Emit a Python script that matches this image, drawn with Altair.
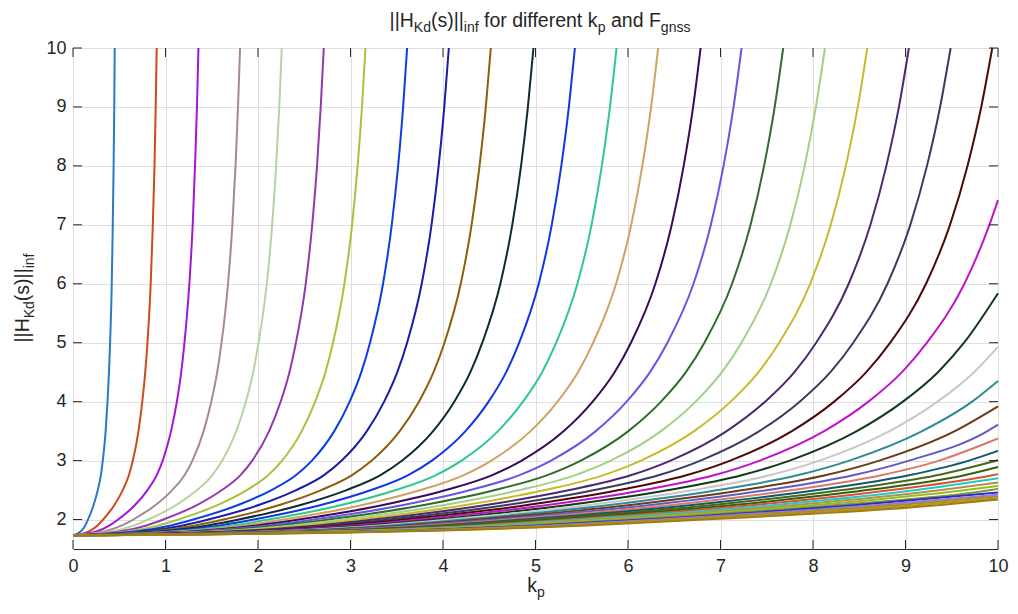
import altair as alt
import pandas as pd

# ---------------------------------------------------------------------------
# Data: ||H_Kd(s)||_inf against k_p, one curve per F_gnss value (42 curves).
# Every curve starts at the same value for k_p = 0; for each level below the
# lists hold the k_p at which curve 1, 2, 3, ... reaches that level.  A list
# stops where the remaining curves reach the level only beyond k_p = 10.
# ---------------------------------------------------------------------------
START_VALUE = 1.732

KP_AT_1_8 = [0.086, 0.173, 0.259, 0.345, 0.431, 0.518, 0.604, 0.690, 0.776, 0.863,
             0.951, 1.036, 1.122, 1.208, 1.296, 1.381, 1.466, 1.553, 1.640, 1.726,
             1.812, 1.898, 1.984, 2.070, 2.156, 2.242, 2.329, 2.415, 2.501, 2.587,
             2.673, 2.760, 2.846, 2.932, 3.018, 3.105, 3.191, 3.277, 3.363, 3.449,
             3.536, 3.622]
KP_AT_1_9 = [0.132, 0.265, 0.397, 0.529, 0.661, 0.794, 0.926, 1.058, 1.190, 1.323,
             1.459, 1.590, 1.722, 1.854, 1.988, 2.118, 2.250, 2.382, 2.516, 2.648,
             2.780, 2.912, 3.043, 3.175, 3.307, 3.440, 3.572, 3.704, 3.837, 3.969,
             4.101, 4.233, 4.366, 4.498, 4.630, 4.762, 4.895, 5.027, 5.159, 5.292,
             5.424, 5.556]
KP_AT_2_0 = [0.162, 0.326, 0.488, 0.650, 0.813, 0.976, 1.138, 1.300, 1.463, 1.626,
             1.792, 1.953, 2.115, 2.277, 2.443, 2.602, 2.764, 2.926, 3.091, 3.253,
             3.416, 3.578, 3.739, 3.901, 4.064, 4.226, 4.389, 4.551, 4.714, 4.876,
             5.039, 5.201, 5.364, 5.526, 5.689, 5.851, 6.014, 6.177, 6.339, 6.502,
             6.664, 6.827]
KP_AT_2_25 = [0.224, 0.449, 0.673, 0.896, 1.119, 1.345, 1.568, 1.792, 2.015, 2.240,
              2.469, 2.691, 2.914, 3.138, 3.365, 3.585, 3.808, 4.032, 4.259, 4.482,
              4.706, 4.929, 5.151, 5.375, 5.599, 5.823, 6.047, 6.270, 6.495, 6.718,
              6.943, 7.166, 7.390, 7.614, 7.838, 8.062, 8.286, 8.510, 8.734, 8.958,
              9.182, 9.406]
KP_AT_2_5 = [0.268, 0.538, 0.805, 1.073, 1.341, 1.610, 1.878, 2.146, 2.413, 2.683,
             2.957, 3.223, 3.490, 3.758, 4.030, 4.293, 4.561, 4.829, 5.101, 5.368,
             5.636, 5.903, 6.169, 6.437, 6.705, 6.973, 7.241, 7.509, 7.778, 8.046,
             8.314, 8.582, 8.851, 9.118, 9.387, 9.655, 9.923]
KP_AT_2_75 = [0.301, 0.604, 0.904, 1.205, 1.505, 1.808, 2.109, 2.409, 2.710, 3.013,
              3.320, 3.619, 3.919, 4.219, 4.526, 4.821, 5.121, 5.422, 5.728, 6.028,
              6.329, 6.629, 6.927, 7.228, 7.529, 7.830, 8.131, 8.432, 8.734, 9.035,
              9.336, 9.637, 9.938]
KP_AT_3 = [0.322, 0.647, 0.970, 1.291, 1.614, 1.938, 2.261, 2.583, 2.905, 3.230,
           3.559, 3.880, 4.201, 4.523, 4.851, 5.168, 5.490, 5.812, 6.140, 6.461,
           6.784, 7.106, 7.425, 7.748, 8.071, 8.393, 8.717, 9.039, 9.362, 9.685]
KP_AT_3_5 = [0.353, 0.708, 1.060, 1.412, 1.765, 2.120, 2.473, 2.825, 3.177, 3.532,
             3.893, 4.243, 4.595, 4.947, 5.306, 5.652, 6.004, 6.357, 6.715, 7.067,
             7.420, 7.772, 8.121, 8.474, 8.827, 9.180, 9.533, 9.886]
KP_AT_4 = [0.373, 0.749, 1.123, 1.495, 1.869, 2.245, 2.618, 2.991, 3.364, 3.740,
           4.122, 4.493, 4.865, 5.238, 5.618, 5.985, 6.357, 6.731, 7.110, 7.483,
           7.856, 8.229, 8.599, 8.972, 9.346, 9.720]
KP_AT_4_5 = [0.389, 0.781, 1.170, 1.559, 1.948, 2.340, 2.729, 3.117, 3.506, 3.898,
             4.296, 4.683, 5.071, 5.459, 5.855, 6.238, 6.626, 7.015, 7.411, 7.799,
             8.188, 8.576, 8.962, 9.351, 9.741]
KP_AT_5 = [0.401, 0.805, 1.205, 1.606, 2.006, 2.410, 2.811, 3.211, 3.612, 4.016,
           4.425, 4.824, 5.224, 5.624, 6.032, 6.426, 6.826, 7.227, 7.634, 8.034,
           8.435, 8.835, 9.232, 9.633]
KP_AT_6 = [0.419, 0.840, 1.258, 1.676, 2.095, 2.516, 2.934, 3.352, 3.770, 4.192,
           4.620, 5.035, 5.453, 5.871, 6.296, 6.708, 7.125, 7.544, 7.969, 8.386,
           8.805, 9.222, 9.637]
KP_AT_7 = [0.430, 0.863, 1.294, 1.723, 2.153, 2.586, 3.017, 3.446, 3.876, 4.309,
           4.749, 5.176, 5.606, 6.035, 6.473, 6.896, 7.325, 7.755, 8.192, 8.621,
           9.052, 9.481, 9.907]
KP_AT_8 = [0.439, 0.881, 1.319, 1.757, 2.196, 2.638, 3.077, 3.515, 3.953, 4.395,
           4.844, 5.279, 5.717, 6.155, 6.602, 7.033, 7.471, 7.910, 8.355, 8.793,
           9.232, 9.670]
KP_AT_9 = [0.446, 0.894, 1.340, 1.784, 2.230, 2.678, 3.124, 3.569, 4.014, 4.463,
           4.918, 5.361, 5.805, 6.250, 6.704, 7.141, 7.586, 8.031, 8.484, 8.929,
           9.374, 9.819]
KP_AT_10 = [0.451, 0.905, 1.356, 1.806, 2.257, 2.711, 3.162, 3.612, 4.063, 4.517,
            4.978, 5.426, 5.876, 6.326, 6.785, 7.228, 7.678, 8.129, 8.587, 9.037,
            9.488, 9.938]

# value at k_p = 10 of the curves that stay below 10 (curves 23 ... 42)
VALUE_AT_KP10 = [7.42, 5.84, 4.93, 4.35, 3.92, 3.61, 3.375, 3.165, 3.007, 2.89,
                 2.77, 2.70, 2.63, 2.57, 2.52, 2.46, 2.42, 2.39, 2.36, 2.34]

CURVE_COLORS = [
    "#2a7ac6", "#cc4b1c", "#a416d4", "#a48a94", "#b7d3a0", "#9438b0", "#a9c23e",
    "#0d3fe0", "#1c1ca8", "#8c5f0c", "#0e2a33", "#1235e6", "#2ec88c", "#d1a162",
    "#3a0a5a", "#6a55e0", "#2f6b2c", "#a3cf86", "#c9b92d", "#4b2a6e", "#3b3b62",
    "#4e0a0a", "#c014c8", "#113a19", "#c8c8cc", "#2e8a95", "#6b3b17", "#6658c4",
    "#d8796d", "#0c5a6b", "#48681a", "#3a5c12", "#d9532f", "#22c6cf", "#a89545",
    "#9ab82a", "#7d9a28", "#2b2bd6", "#9a7ad6", "#a48c22", "#b8941a", "#a07d14",
]

X_TICKS = [0, 1, 2, 3, 4, 5, 6, 7, 8, 9, 10]
Y_TICKS = [2, 3, 4, 5, 6, 7, 8, 9, 10]

LEVEL_TABLE = [
    (1.8, KP_AT_1_8), (1.9, KP_AT_1_9), (2.0, KP_AT_2_0), (2.25, KP_AT_2_25),
    (2.5, KP_AT_2_5), (2.75, KP_AT_2_75), (3.0, KP_AT_3), (3.5, KP_AT_3_5),
    (4.0, KP_AT_4), (4.5, KP_AT_4_5), (5.0, KP_AT_5), (6.0, KP_AT_6),
    (7.0, KP_AT_7), (8.0, KP_AT_8), (9.0, KP_AT_9), (10.0, KP_AT_10),
]

n_curves = len(CURVE_COLORS)
names = [f"F{i + 1:02d}" for i in range(n_curves)]
rows = []
for i, name in enumerate(names):
    rows.append({"curve": name, "kp": 0.0, "value": START_VALUE})
    for level, crossings in LEVEL_TABLE:
        if i < len(crossings):
            rows.append({"curve": name, "kp": crossings[i], "value": level})
    j = i - len(KP_AT_10)
    if j >= 0:
        rows.append({"curve": name, "kp": 10.0, "value": VALUE_AT_KP10[j]})
curves = pd.DataFrame(rows)

# ---------------------------------------------------------------------------
# Layout (MATLAB-like axes box)
# ---------------------------------------------------------------------------
W, H = 925, 501
INK = "#262626"
FONT = "Liberation Sans"
TICK_LEN = 9

axis_style = dict(grid=True, gridColor="#dfdfdf", gridWidth=1, ticks=False,
                  domain=False, labelFont=FONT, labelFontSize=18,
                  labelColor=INK, title=None, labelFlush=False, format="d")

X_ENC = alt.X("kp:Q", scale=alt.Scale(domain=[0, 10], nice=False),
              axis=alt.Axis(values=X_TICKS, labelPadding=8, **axis_style))
Y_ENC = alt.Y("value:Q", scale=alt.Scale(domain=[1.5, 10], nice=False, zero=False),
              axis=alt.Axis(values=Y_TICKS, labelPadding=7, **axis_style))

lines = alt.Chart(curves).mark_line(strokeWidth=2, interpolate="monotone").encode(
    x=X_ENC,
    y=Y_ENC,
    color=alt.Color("curve:N", scale=alt.Scale(domain=names, range=CURVE_COLORS),
                    legend=None),
)

xt = pd.DataFrame({"kp": X_TICKS})
yt = pd.DataFrame({"value": Y_TICKS})
tick_style = dict(color=INK, strokeWidth=1)
ticks_bottom = alt.Chart(xt).mark_rule(**tick_style).encode(
    x=X_ENC, y=alt.value(H), y2=alt.value(H - TICK_LEN))
ticks_top = alt.Chart(xt).mark_rule(**tick_style).encode(
    x=X_ENC, y=alt.value(0), y2=alt.value(TICK_LEN))
ticks_left = alt.Chart(yt).mark_rule(**tick_style).encode(
    y=Y_ENC, x=alt.value(0), x2=alt.value(TICK_LEN))
ticks_right = alt.Chart(yt).mark_rule(**tick_style).encode(
    y=Y_ENC, x=alt.value(W), x2=alt.value(W - TICK_LEN))

# ---------------------------------------------------------------------------
# Titles with subscripts, set piece by piece
# ---------------------------------------------------------------------------
ADV = {' ': 278, '|': 260, '(': 333, ')': 333, 'H': 722, 'K': 667, 'F': 611,
       'a': 556, 'd': 556, 'e': 556, 'f': 278, 'g': 556, 'i': 222, 'k': 500,
       'n': 556, 'o': 556, 'p': 556, 'r': 333, 's': 500, 't': 278}


def text_width(t, size):
    return sum(ADV.get(c, 556) for c in t) * size / 1000.0


MAIN, SUB = 19.5, 14
dummy = pd.DataFrame({"d": [0]})


def piece(t, x, y, size, angle=0):
    return alt.Chart(dummy).mark_text(
        text=t, font=FONT, fontSize=size, align="left", baseline="alphabetic",
        color=INK, angle=angle,
    ).encode(x=alt.value(x), y=alt.value(y))


def horizontal_label(parts, center_x, base_y, sub_drop):
    total = sum(text_width(t, SUB if s else MAIN) for t, s in parts)
    x = center_x - total / 2
    out = []
    for t, s in parts:
        size = SUB if s else MAIN
        lead = len(t) - len(t.lstrip(" "))
        out.append(piece(t.strip(), x + text_width(" " * lead, size),
                         base_y + (sub_drop if s else 0), size))
        x += text_width(t, size)
    return out


def vertical_label(parts, base_x, center_y, sub_shift):
    total = sum(text_width(t, SUB if s else MAIN) for t, s in parts)
    y = center_y + total / 2
    out = []
    for t, s in parts:
        size = SUB if s else MAIN
        out.append(piece(t, base_x + (sub_shift if s else 0), y, size, angle=270))
        y -= text_width(t, size)
    return out


title_parts = [("||H", False), ("Kd", True), ("(s)||", False), ("inf", True),
               (" for different k", False), ("p", True), (" and F", False),
               ("gnss", True)]
xlabel_parts = [("k", False), ("p", True)]
ylabel_parts = [("||H", False), ("Kd", True), ("(s)||", False), ("inf", True)]

texts = (horizontal_label(title_parts, 467, -21, 5)
         + horizontal_label(xlabel_parts, 463, 544, 5)
         + vertical_label(ylabel_parts, -44, 250, 5))

chart = alt.layer(
    lines, ticks_bottom, ticks_top, ticks_left, ticks_right, *texts
).properties(
    width=W, height=H,
    padding={"left": 73, "top": 48, "right": 20, "bottom": 65},
    autosize=alt.AutoSizeParams(type="none"),
    background="white",
).configure_view(stroke=INK, strokeWidth=1)

chart.save("out.html", embed_options={"renderer": "svg", "actions": False})
